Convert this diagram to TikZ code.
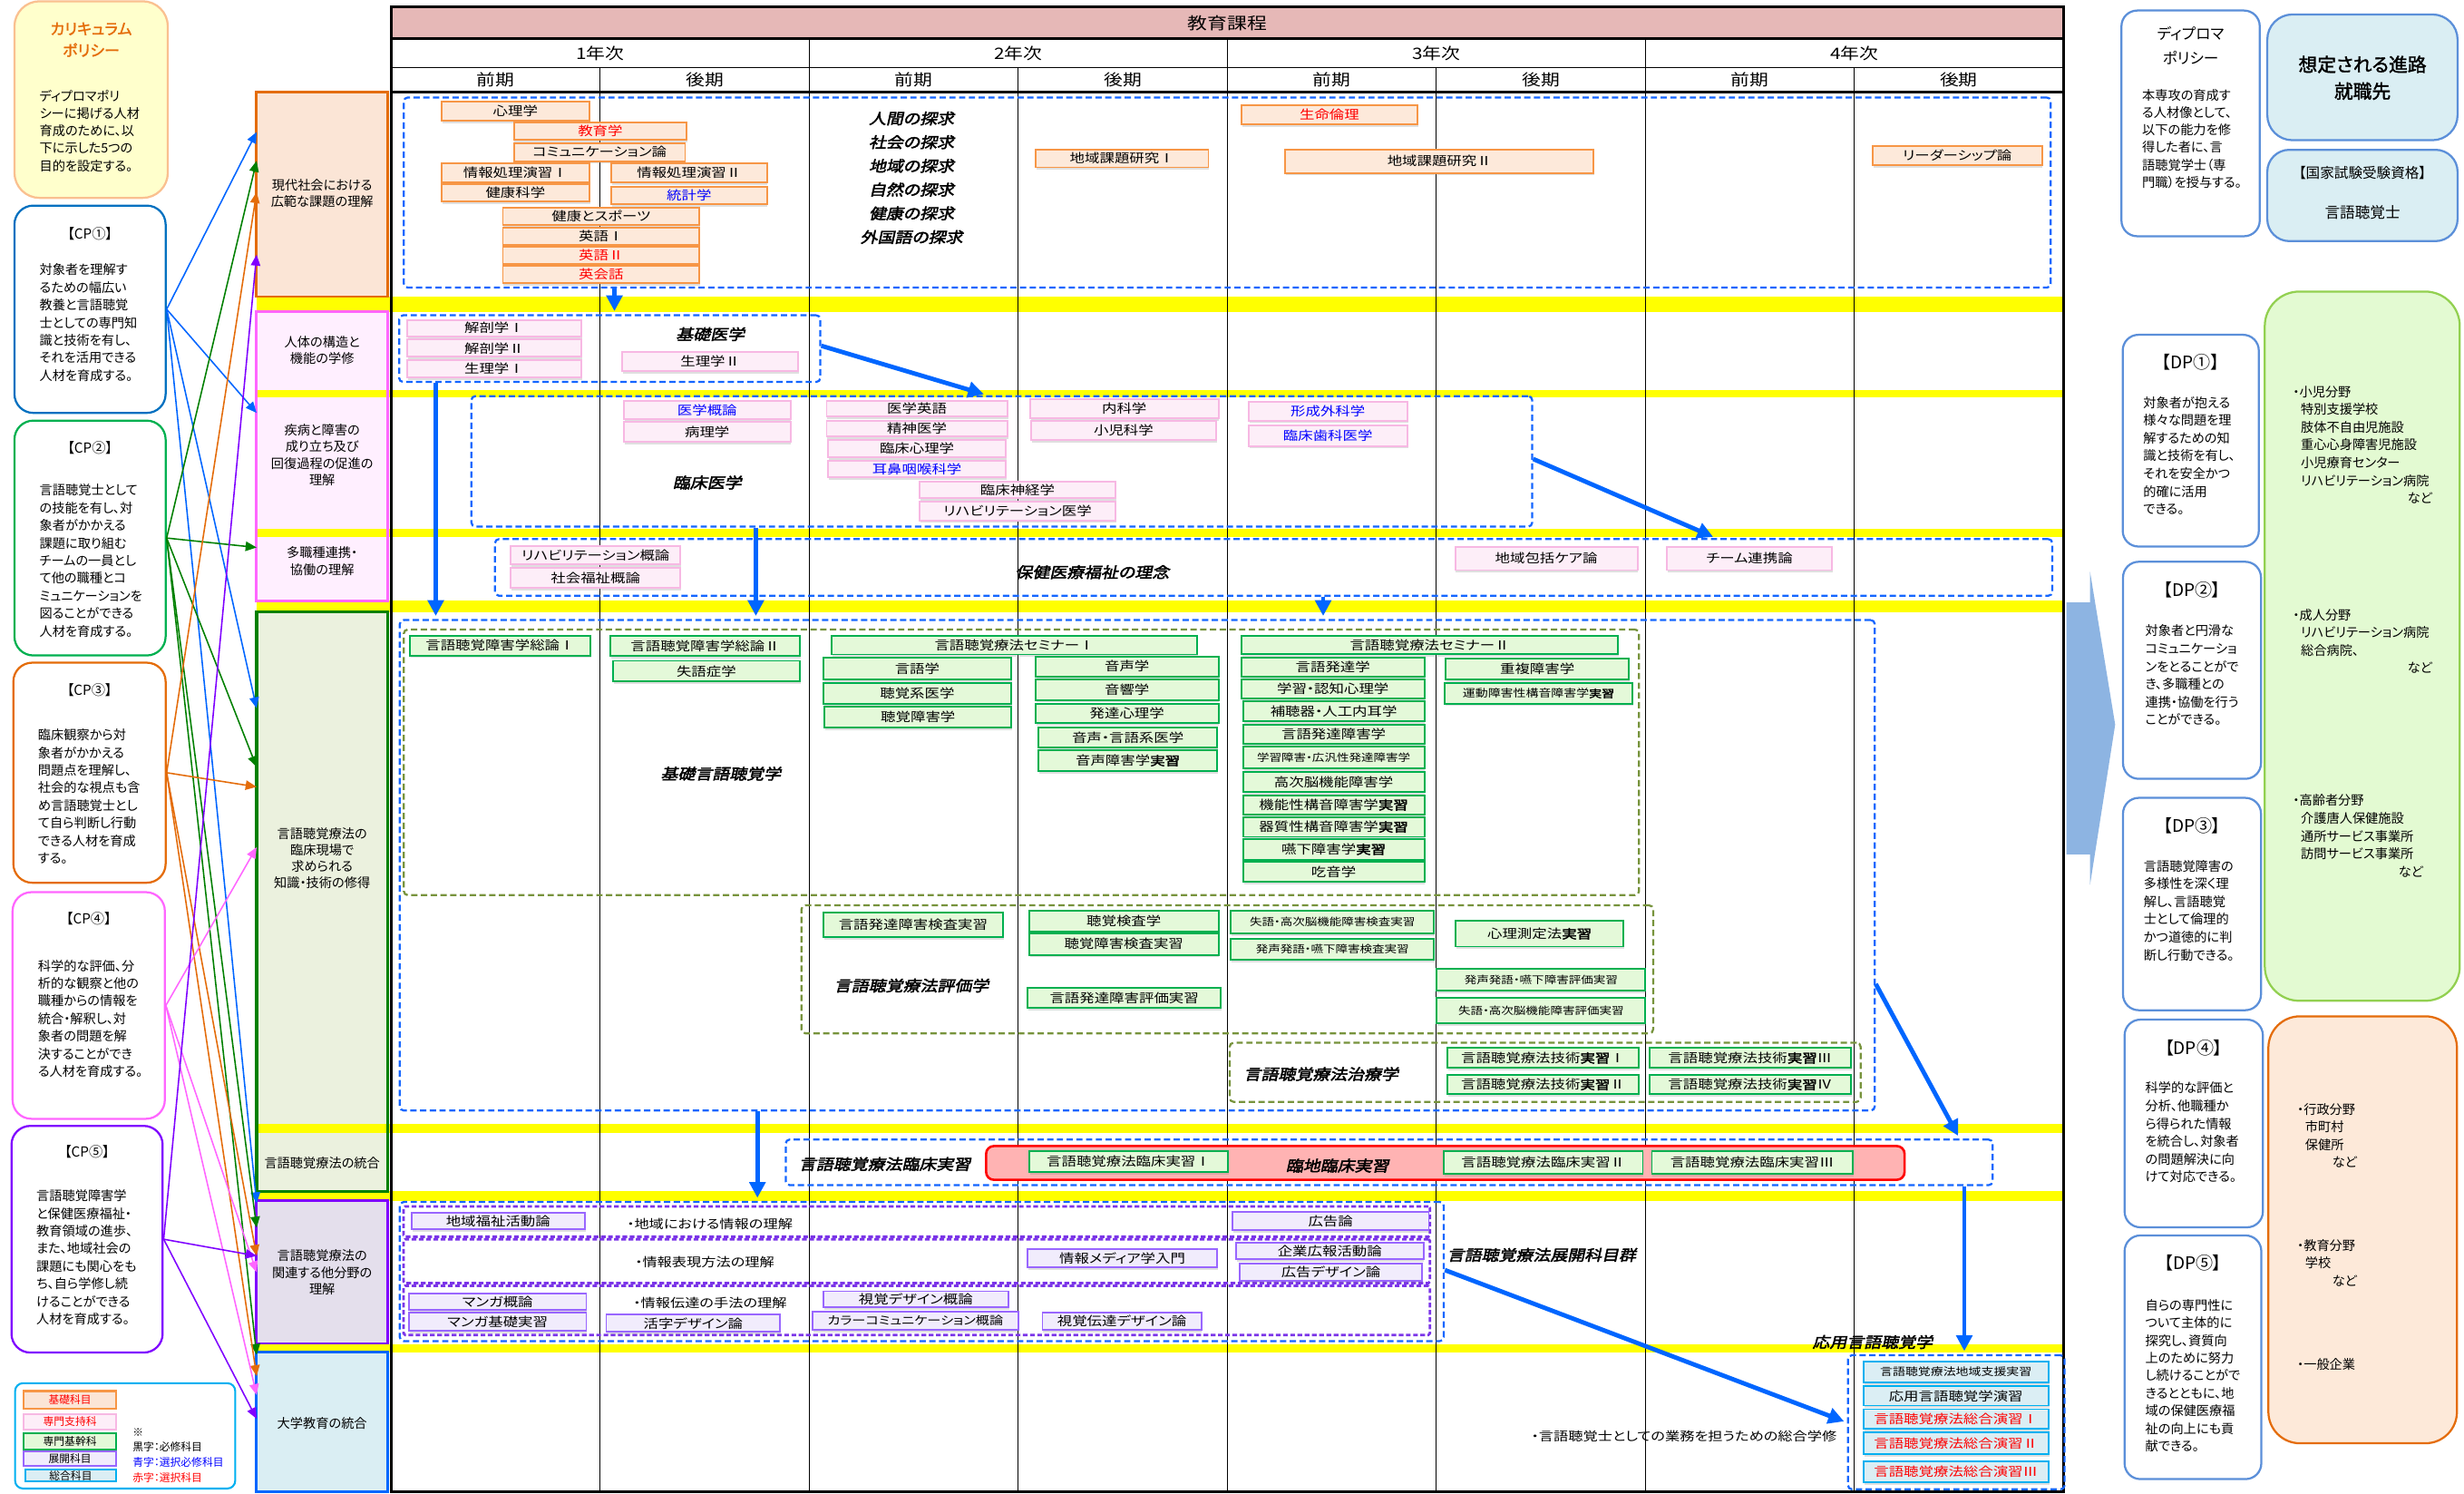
\documentclass[tikz,border=0pt]{standalone}
\usepackage{fontspec}
\setmainfont{Noto Sans CJK JP}[RawFeature=+palt]
\newfontfamily\jpbf{Noto Sans CJK JP}[FakeBold=1.6,RawFeature=+palt]
\newfontfamily\gw{Noto Sans CJK JP}[FakeStretch=1.2,RawFeature=+palt]
\newfontfamily\gwb{Noto Sans CJK JP}[FakeStretch=1.2,FakeBold=2.2,RawFeature=+palt]
\newfontfamily\gwbi{Noto Sans CJK JP}[FakeStretch=1.15,FakeBold=2.6,FakeSlant=0.22,RawFeature=+palt]
\usetikzlibrary{arrows.meta,shadows}

% palette
\definecolor{hdrF}{HTML}{E6B8B7}
\definecolor{bandY}{HTML}{FFFF00}
\definecolor{dashB}{HTML}{1466FF}
\definecolor{dashO}{HTML}{77933C}
\definecolor{dashP}{HTML}{7B35E8}
\definecolor{orL}{HTML}{F79646}
\definecolor{orF}{HTML}{FDE9DA}
\definecolor{pkL}{HTML}{F7B8E3}
\definecolor{pkF}{HTML}{FDEEF8}
\definecolor{grL}{HTML}{00B050}
\definecolor{grF}{HTML}{E4F9D9}
\definecolor{puL}{HTML}{9966FF}
\definecolor{puF}{HTML}{F1ECFC}
\definecolor{cyL}{HTML}{00B0F0}
\definecolor{cyF}{HTML}{DBEEF4}
\definecolor{txR}{HTML}{FF0000}
\definecolor{txB}{HTML}{0000FF}
\definecolor{catAL}{HTML}{E46C0A}
\definecolor{catAF}{HTML}{FBE5D6}
\definecolor{catBL}{HTML}{FF66FF}
\definecolor{catBF}{HTML}{FFEFFF}
\definecolor{catDL}{HTML}{008000}
\definecolor{catDF}{HTML}{EBF1DE}
\definecolor{catEL}{HTML}{7F00FF}
\definecolor{catEF}{HTML}{E4DFEC}
\definecolor{catFL}{HTML}{0066FF}
\definecolor{catFF}{HTML}{DAEEF3}
\definecolor{cpA}{HTML}{0070C0}
\definecolor{cpB}{HTML}{00B050}
\definecolor{cpC}{HTML}{E46C0A}
\definecolor{cpD}{HTML}{FF66FF}
\definecolor{cpE}{HTML}{7F00FF}
\definecolor{arA}{HTML}{0066FF}
\definecolor{arB}{HTML}{008000}
\definecolor{arC}{HTML}{E46C0A}
\definecolor{arD}{HTML}{FF66FF}
\definecolor{arE}{HTML}{7F00FF}
\definecolor{polF}{HTML}{FFFFCC}
\definecolor{polL}{HTML}{FAC090}
\definecolor{dpL}{HTML}{5B8FD9}
\definecolor{carBF}{HTML}{DAEEF3}
\definecolor{carGF}{HTML}{E3FAD2}
\definecolor{carGL}{HTML}{92D050}
\definecolor{carOF}{HTML}{FDE9D9}
\definecolor{carOL}{HTML}{E46C0A}
\definecolor{chev}{HTML}{8DB4E2}
\definecolor{rinF}{HTML}{FFB3B3}
\definecolor{rinL}{HTML}{FF0000}

\newcommand\fsz[1]{\fontsize{#1}{#1}\selectfont}
\newcommand\fsl[2]{\fontsize{#1}{#2}\selectfont}
\newcommand\js{{\gwb 実習}}
% course box: name, x1, y1, x2, y2, style, text
\newcommand{\crs}[7]{\node[#6,minimum width={#4-#2},minimum height={#5-#3}] (#1) at ({(#2+#4)/2},{(#3+#5)/2}) {#7};}
% empty frame: name, x1, y1, x2, y2, style
\newcommand{\rgn}[6]{\node[#6,minimum width={#4-#2},minimum height={#5-#3}] (#1) at ({(#2+#4)/2},{(#3+#5)/2}) {};}

\begin{document}
\begin{tikzpicture}[x=1pt,y=-1pt,
  crsbase/.style={rectangle,inner sep=0pt,line width=1.1pt,font=\gw\fsz{7.9},
    drop shadow={shadow xshift=0.5pt,shadow yshift=-1.6pt,opacity=0.25}},
  kiso/.style={crsbase,draw=orL,fill=orF},
  shiji/.style={crsbase,draw=pkL,fill=pkF},
  kikan/.style={crsbase,draw=grL,fill=grF},
  tenkai/.style={crsbase,draw=puL,fill=puF},
  sogo/.style={crsbase,draw=cyL,fill=cyF},
  rgnbase/.style={rectangle,inner sep=0pt,line width=1.3pt,rounded corners=2.5pt},
  dregB/.style={rgnbase,draw=dashB,dash pattern=on 4pt off 2.2pt},
  dregO/.style={rgnbase,draw=dashO,dash pattern=on 4pt off 2.2pt},
  dregP/.style={rgnbase,draw=dashP,line width=1.6pt,dash pattern=on 3pt off 1.6pt,rounded corners=1pt},
  catfill/.style={rectangle,inner sep=0pt,draw=none},
  cattext/.style={align=center,inner sep=0pt,font=\fsl{8.2}{10.5}},
  emphlbl/.style={inner sep=0pt,font=\gwbi\fsz{9.5}},
  gridnote/.style={inner sep=0pt,font=\gw\fsz{7.8}},
  bigarrow/.style={draw=arA,line width=2.8pt,-{Triangle[length=10pt,width=10pt]},shorten >=2pt},
  cparrow/.style={line width=0.9pt,-{Triangle[length=7pt,width=6pt]}},
  roundbox/.style={rectangle,inner sep=0pt,line width=1.3pt,rounded corners=12pt,fill=white},
  bodytext/.style={align=left,inner sep=0pt,anchor=west,font=\fsl{8.2}{11.2}},
  boxtitle/.style={inner sep=0pt,font=\fsz{8.8}},
  dptitle/.style={inner sep=0pt,font=\fsz{11}},
  careertext/.style={align=left,inner sep=0pt,anchor=west,font=\fsl{8.2}{11.3}},
  gridthin/.style={line width=0.6pt,black},
  gridthick/.style={line width=1.8pt,black},
]
\useasboundingbox (0,0) rectangle (1568,950);
\fill[white] (0,0) rectangle (1568,950);

% ---------- category column (fills) ----------
\rgn{catA}{163.5}{58.7}{246.5}{188.5}{catfill,fill=catAF}
\rgn{catB}{163.5}{198.6}{246.5}{382}{catfill,fill=catBF}
\rgn{catD}{163.5}{389.5}{246.5}{758}{catfill,fill=catDF}
\rgn{catE}{163.5}{764}{246.5}{854.5}{catfill,fill=catEF}
\rgn{catF}{163.5}{860.5}{246.5}{949}{catfill,fill=catFF}

% ---------- yellow separators ----------
\foreach \a/\b in {188.5/198.6,248/252.5,336.5/341.5,382/389.5,714.8/720.8,758/764,855/860.5}
  \fill[bandY] (163.5,\a) rectangle (1313,\b);

% ---------- category borders and texts ----------
\draw[catAL,line width=1.7pt] (catA.north west) rectangle (catA.south east);
\draw[catBL,line width=1.7pt] (catB.north west) rectangle (catB.south east);
\draw[catDL,line width=1.9pt] (catD.north west) rectangle (catD.south east);
\draw[catEL,line width=1.7pt] (catE.north west) rectangle (catE.south east);
\draw[catFL,line width=1.7pt] (catF.north west) rectangle (catF.south east);
\node[cattext] (catAt) at (205,123) {現代社会における\\広範な課題の理解};
\node[cattext] (catB1) at (205,223) {人体の構造と\\機能の学修};
\node[cattext] (catB2) at (205,289.5) {疾病と障害の\\成り立ち及び\\回復過程の促進の\\理解};
\node[cattext] (catB3) at (205,357) {多職種連携・\\協働の理解};
\node[cattext] (catD1) at (205,546) {言語聴覚療法の\\臨床現場で\\求められる\\知識・技術の修得};
\node[cattext] (catD2) at (205,739.7) {言語聴覚療法の統合};
\node[cattext] (catEt) at (205,809.5) {言語聴覚療法の\\関連する他分野の\\理解};
\node[cattext] (catFt) at (205,905.6) {大学教育の統合};

% ---------- timetable frame ----------
\draw[gridthin] (249,43) -- (1313,43);
\foreach \x in {382,648,914,1180} \draw[gridthin] (\x,43) -- (\x,949);
\foreach \x in {515,781,1047} \draw[gridthin] (\x,24.7) -- (\x,949);
\node[draw=black,line width=1.8pt,fill=hdrF,minimum width=1064pt,minimum height=20.4pt,inner sep=0pt,font=\gw\fsz{10.5}] (hdr) at (781,14.5) {教育課程};
\draw[gridthick] (249,58.7) -- (1313,58.7);
\draw[gridthick] (249,4.3) rectangle (1313,949);
\foreach \x/\t/\n in {382/1年次/yrA,648/2年次/yrB,914/3年次/yrC,1180/4年次/yrD}
  \node[inner sep=0pt,font=\gw\fsz{10}] (\n) at (\x,33.7) {\t};
\foreach \x/\t/\n in {315.5/前期/smA,448.5/後期/smB,581.5/前期/smC,714.5/後期/smD,847.5/前期/smE,980.5/後期/smF,1113.5/前期/smG,1246.5/後期/smH}
  \node[inner sep=0pt,font=\gw\fsz{10}] (\n) at (\x,50.7) {\t};

% ---------- dashed groupings ----------
\rgn{kisoReg}{257}{62}{1305}{183}{dregB}
\rgn{ikaReg}{254}{200.6}{522}{243}{dregB}
\rgn{rinReg}{300}{252}{975}{335}{dregB}
\rgn{hokenReg}{315}{343}{1306}{379}{dregB}
\rgn{senReg}{254.4}{394.5}{1193}{706.5}{dregB}
\rgn{kgReg}{257}{400.5}{1043}{569.5}{dregO}
\rgn{hyReg}{510}{576}{1052}{657.4}{dregO}
\rgn{chReg}{782.5}{663.4}{1184}{701}{dregO}
\rgn{jsReg}{500}{725}{1268}{754}{dregB}
\rgn{tkReg}{254.4}{764.7}{918.8}{853.2}{dregB}
\rgn{puA}{256.8}{767.6}{910}{786.8}{dregP}
\rgn{puB}{256.8}{788.4}{910}{816.3}{dregP}
\rgn{puC}{256.8}{818}{910}{849.3}{dregP}
\rgn{sgReg}{1176}{862.2}{1313.8}{947.5}{dregB}
\rgn{rinchi}{627.5}{729.1}{1212}{750.6}{rectangle,inner sep=0pt,draw=rinL,fill=rinF,line width=1.5pt,rounded corners=5pt}

% ---------- basic subjects ----------
\crs{shinri}{281}{64.6}{375}{76.6}{kiso}{心理学}
\crs{kyoiku}{327}{78}{437}{89}{kiso,text=txR}{教育学}
\crs{comm}{327}{91}{436}{102.5}{kiso}{コミュニケーション論}
\crs{johoA}{281}{104}{375}{116}{kiso}{情報処理演習Ⅰ}
\crs{johoB}{389}{104}{488}{116}{kiso}{情報処理演習Ⅱ}
\crs{kenko}{281}{117}{375}{128}{kiso}{健康科学}
\crs{tokei}{389}{119}{488}{130}{kiso,text=txB}{統計学}
\crs{sports}{320}{132}{445}{143}{kiso}{健康とスポーツ}
\crs{engA}{320}{145}{445}{156}{kiso}{英語Ⅰ}
\crs{engB}{320}{157}{445}{168}{kiso,text=txR}{英語Ⅱ}
\crs{eikaiwa}{320}{169}{445}{180}{kiso,text=txR}{英会話}
\crs{chiikiA}{659}{95}{769}{106.5}{kiso}{地域課題研究Ⅰ}
\crs{seimei}{790}{67}{902}{79}{kiso,text=txR}{生命倫理}
\crs{chiikiB}{818}{95}{1014}{110}{kiso}{地域課題研究Ⅱ}
\crs{leader}{1191.6}{93}{1299.4}{105}{kiso}{リーダーシップ論}
\node[emphlbl,align=center,font=\gwbi\fsl{9.5}{15.1}] (tankyu) at (580,113.1) {人間の探求\\社会の探求\\地域の探求\\自然の探求\\健康の探求\\外国語の探求};

% ---------- supporting subjects ----------
\crs{kaiboA}{259}{203.5}{370}{214}{shiji}{解剖学Ⅰ}
\crs{kaiboB}{259}{216}{370}{227}{shiji}{解剖学Ⅱ}
\crs{seiriA}{259}{229}{370}{240}{shiji}{生理学Ⅰ}
\crs{seiriB}{396}{224}{508}{236}{shiji}{生理学Ⅱ}
\node[emphlbl] (lblKiso) at (452,212.6) {基礎医学};
\crs{igaku}{397}{255}{503}{266.5}{shiji,text=txB}{医学概論}
\crs{byori}{397}{268.6}{503}{281.3}{shiji}{病理学}
\crs{ieigo}{526}{255}{641}{265}{shiji}{医学英語}
\crs{seishin}{526}{267.7}{641}{277.7}{shiji}{精神医学}
\crs{rinshin}{527}{280}{640}{291}{shiji}{臨床心理学}
\crs{jibi}{527}{293}{640}{303.6}{shiji,text=txB}{耳鼻咽喉科学}
\crs{shinkei}{585}{306.4}{710}{317}{shiji}{臨床神経学}
\crs{rihaI}{585}{319}{710}{331}{shiji}{リハビリテーション医学}
\crs{naika}{655.5}{254}{775.4}{266}{shiji}{内科学}
\crs{shoni}{656}{268}{774}{280}{shiji}{小児科学}
\crs{keisei}{794.5}{255.7}{895.5}{267.6}{shiji,text=txB}{形成外科学}
\crs{shika}{794.5}{270.5}{895.5}{283.7}{shiji,text=txB}{臨床歯科医学}
\node[emphlbl] (lblRin) at (450,307) {臨床医学};
\crs{rihaG}{325}{347.6}{433}{359}{shiji}{リハビリテーション概論}
\crs{fukushi}{325}{361.5}{433}{374}{shiji}{社会福祉概論}
\crs{houkatsu}{926}{348}{1042}{362.7}{shiji}{地域包括ケア論}
\crs{team}{1060.5}{348}{1166}{362.7}{shiji}{チーム連携論}
\node[emphlbl] (lblHoken) at (695,364) {保健医療福祉の理念};

% ---------- core subjects ----------
\crs{soronA}{261}{404.5}{375.5}{417}{kikan}{言語聴覚障害学総論Ⅰ}
\crs{soronB}{388.5}{404.5}{509}{417.5}{kikan}{言語聴覚障害学総論Ⅱ}
\crs{shitsugo}{390}{420.4}{509}{433.6}{kikan}{失語症学}
\crs{semiA}{529}{404.5}{762}{416.4}{kikan}{言語聴覚療法セミナーⅠ}
\crs{gengo}{523.8}{418.6}{643.6}{432.5}{kikan}{言語学}
\crs{chokakui}{523.8}{434.3}{643.6}{447.6}{kikan}{聴覚系医学}
\crs{chokakus}{524.8}{449.5}{643.6}{463}{kikan}{聴覚障害学}
\crs{onsei}{659}{417.7}{775.4}{430.3}{kikan}{音声学}
\crs{onkyo}{659}{432.5}{775.4}{445.3}{kikan}{音響学}
\crs{hattatsu}{659}{447.6}{775.4}{460.1}{kikan}{発達心理学}
\crs{onseigen}{660.7}{462.8}{774.7}{475.6}{kikan}{音声・言語系医学}
\crs{onseisho}{660.7}{477.4}{774.7}{490.4}{kikan}{音声障害学\js}
\crs{semiB}{790}{404.5}{1029.7}{416}{kikan}{言語聴覚療法セミナーⅡ}
\crs{genhatsu}{790}{418.2}{906.4}{430.3}{kikan}{言語発達学}
\crs{gakushu}{790}{432.1}{906.4}{444.2}{kikan}{学習・認知心理学}
\crs{hochoki}{791}{446.2}{906.4}{459}{kikan}{補聴器・人工内耳学}
\crs{genhatsusho}{791}{461.2}{906.4}{473}{kikan}{言語発達障害学}
\crs{ldsho}{791}{475.2}{906.4}{488.9}{kikan,font=\gw\fsz{6.5}}{学習障害・広汎性発達障害学}
\crs{koji}{791}{491}{906.4}{503.7}{kikan}{高次脳機能障害学}
\crs{kino}{791}{505.9}{906.4}{518.2}{kikan}{機能性構音障害学\js}
\crs{kishitsu}{791}{519.8}{906.4}{532.4}{kikan}{器質性構音障害学\js}
\crs{enge}{791}{533.7}{906.4}{547}{kikan}{嚥下障害学\js}
\crs{kitsuon}{791}{548.5}{906.4}{561.1}{kikan}{吃音学}
\crs{chofuku}{920.1}{418.8}{1036.5}{432.1}{kikan}{重複障害学}
\crs{undo}{919.5}{434.7}{1038.6}{447.6}{kikan,font=\gw\fsz{6.7}}{運動障害性構音障害学\js}
\node[emphlbl] (lblKG) at (458.7,492.2) {基礎言語聴覚学};
\crs{kensaA}{523.8}{580.5}{638.4}{596}{kikan}{言語発達障害検査実習}
\crs{chokensa}{654.9}{579.5}{775.4}{592.7}{kikan}{聴覚検査学}
\crs{chokensaJ}{654.9}{593.8}{775.4}{607.5}{kikan}{聴覚障害検査実習}
\crs{hyokaA}{653.8}{628.7}{777}{641.3}{kikan}{言語発達障害評価実習}
\crs{shitsuK}{783.2}{579.4}{912.6}{593.8}{kikan,font=\gw\fsz{6.5}}{失語・高次脳機能障害検査実習}
\crs{hasseiK}{783.2}{597.1}{912.6}{610.8}{kikan,font=\gw\fsz{6.5}}{発声発語・嚥下障害検査実習}
\crs{shinriS}{926.3}{586}{1033.1}{602.2}{kikan}{心理測定法\js}
\crs{hasseiH}{914.3}{616.3}{1047.1}{630.2}{kikan,font=\gw\fsz{6.5}}{発声発語・嚥下障害評価実習}
\crs{shitsuH}{914.3}{634.7}{1047.1}{651.2}{kikan,font=\gw\fsz{6.5}}{失語・高次脳機能障害評価実習}
\node[emphlbl] (lblHy) at (580,627) {言語聴覚療法評価学};
\crs{gijA}{921.1}{666.7}{1042.7}{679.5}{kikan}{言語聴覚療法技術\js Ⅰ}
\crs{gijB}{921.1}{684}{1042.7}{696}{kikan}{言語聴覚療法技術\js Ⅱ}
\crs{gijC}{1049.5}{666.7}{1177.9}{679.5}{kikan}{言語聴覚療法技術\js Ⅲ}
\crs{gijD}{1049.5}{684}{1177.9}{696}{kikan}{言語聴覚療法技術\js Ⅳ}
\node[emphlbl] (lblCh) at (840.7,683.3) {言語聴覚療法治療学};

% ---------- clinical practice ----------
\crs{rinshoA}{654.9}{732.4}{781.5}{745.8}{kikan}{言語聴覚療法臨床実習Ⅰ}
\crs{rinshoB}{918.8}{732.4}{1045.4}{746.8}{kikan}{言語聴覚療法臨床実習Ⅱ}
\crs{rinshoC}{1051.2}{732.4}{1178.9}{746.8}{kikan}{言語聴覚療法臨床実習Ⅲ}
\node[emphlbl] (lblJs) at (563,740.6) {言語聴覚療法臨床実習};
\node[emphlbl] (lblRc) at (851,741.6) {臨地臨床実習};

% ---------- related fields ----------
\crs{chiikiF}{261.9}{771.4}{372.1}{782}{tenkai}{地域福祉活動論}
\crs{media}{653.8}{794.5}{774.6}{806.1}{tenkai}{情報メディア学入門}
\crs{manga}{260.2}{823}{373.1}{833.4}{tenkai}{マンガ概論}
\crs{mangaJ}{260.2}{835.3}{373.1}{846.5}{tenkai}{マンガ基礎実習}
\crs{katsuji}{385.8}{836.3}{496.4}{847.4}{tenkai}{活字デザイン論}
\crs{shikaku}{523.8}{821.5}{641.8}{831.5}{tenkai}{視覚デザイン概論}
\crs{color}{517}{834.5}{648}{846}{tenkai,font=\gw\fsz{7.3}}{カラーコミュニケーション概論}
\crs{shikakuD}{663.4}{835}{764.4}{846}{tenkai}{視覚伝達デザイン論}
\crs{kokoku}{784.2}{771}{909.2}{782.6}{tenkai}{広告論}
\crs{kigyo}{786.6}{790.7}{905.8}{801.2}{tenkai}{企業広報活動論}
\crs{kokokuD}{788.7}{803.7}{905.1}{814.7}{tenkai}{広告デザイン論}
\node[gridnote,anchor=west] (ntA) at (398.8,778.7) {・地域における情報の理解};
\node[gridnote,anchor=west] (ntB) at (404,803.2) {・情報表現方法の理解};
\node[gridnote,anchor=west] (ntC) at (402.9,829.2) {・情報伝達の手法の理解};
\node[emphlbl] (lblTk) at (981,798.4) {言語聴覚療法展開科目群};

% ---------- integration ----------
\crs{shien}{1185.8}{866.1}{1303.5}{879.6}{sogo,font=\gw\fsz{6.7}}{言語聴覚療法地域支援実習}
\crs{oyo}{1185.8}{882}{1303.5}{894.2}{sogo}{応用言語聴覚学演習}
\crs{sogoA}{1185.8}{896.5}{1303.5}{909}{sogo,text=txR}{言語聴覚療法総合演習Ⅰ}
\crs{sogoB}{1185.8}{911.5}{1303.5}{925}{sogo,text=txR}{言語聴覚療法総合演習Ⅱ}
\crs{sogoC}{1185.8}{929.6}{1303.5}{943}{sogo,text=txR}{言語聴覚療法総合演習Ⅲ}
\node[emphlbl] (lblOyo) at (1191.6,853.8) {応用言語聴覚学};
\node[gridnote,anchor=east] (ntD) at (1169,913.8) {・言語聴覚士としての業務を担うための総合学修};

% ---------- flow arrows ----------
\draw[bigarrow] (kisoReg.south -| 391,0) -- (ikaReg.north -| 391,0);
\draw[bigarrow] (ikaReg.east |- 0,220) -- (rinReg.north -| 628,0);
\draw[bigarrow] (rinReg.east |- 0,292) -- (hokenReg.north -| 1092,0);
\draw[bigarrow] (ikaReg.south -| 277.3,0) -- (senReg.north -| 277.3,0);
\draw[bigarrow] (rinReg.south -| 481,0) -- (senReg.north -| 481,0);
\draw[bigarrow] (hokenReg.south -| 842,0) -- (senReg.north -| 842,0);
\draw[bigarrow] (senReg.east |- 0,626) -- (jsReg.north -| 1247,0);
\draw[bigarrow] (senReg.south -| 482,0) -- (tkReg.north -| 482,0);
\draw[bigarrow] (jsReg.south -| 1250,0) -- (sgReg.north -| 1250,0);
\draw[bigarrow] (tkReg.east |- 0,808) -- (sgReg.west |- 0,905);

% ---------- curriculum policy column ----------
\rgn{pol}{9.2}{0.8}{106.8}{125.9}{roundbox,draw=polL,fill=polF,rounded corners=16pt}
\node[inner sep=0pt,align=center,text=catAL,font=\jpbf\fsl{9.8}{13.7}] (polT) at (58,25.2) {カリキュラム\\ポリシー};
\node[bodytext,font=\fsl{8.2}{11.1}] (polB) at (25,83.2) {ディプロマポリ\\シーに掲げる人材\\育成のために、以\\下に示した5つの\\目的を設定する。};

\rgn{cpa}{9.2}{130.8}{105.4}{262.7}{roundbox,draw=cpA}
\node[boxtitle] (cpaT) at (57.3,148.8) {【CP①】};
\node[bodytext] (cpaB) at (25,205.3) {対象者を理解す\\るための幅広い\\教養と言語聴覚\\士としての専門知\\識と技術を有し、\\それを活用できる\\人材を育成する。};

\rgn{cpb}{9.2}{267.6}{105.4}{417}{roundbox,draw=cpB}
\node[boxtitle] (cpbT) at (57.3,284.7) {【CP②】};
\node[bodytext] (cpbB) at (25,356.7) {言語聴覚士として\\の技能を有し、対\\象者がかかえる\\課題に取り組む\\チームの一員とし\\て他の職種とコ\\ミュニケーションを\\図ることができる\\人材を育成する。};

\rgn{cpc}{8.5}{421.6}{105.4}{561.6}{roundbox,draw=cpC}
\node[boxtitle] (cpcT) at (57,439) {【CP③】};
\node[bodytext] (cpcB) at (24,506.7) {臨床観察から対\\象者がかかえる\\問題点を理解し、\\社会的な視点も含\\め言語聴覚士とし\\て自ら判断し行動\\できる人材を育成\\する。};

\rgn{cpd}{8}{567.6}{104.9}{711.8}{roundbox,draw=cpD}
\node[boxtitle] (cpdT) at (56.5,584.7) {【CP④】};
\node[bodytext] (cpdB) at (24,648) {科学的な評価、分\\析的な観察と他の\\職種からの情報を\\統合・解釈し、対\\象者の問題を解\\決することができ\\る人材を育成する。};

\rgn{cpe}{7.3}{716.3}{103.5}{860.5}{roundbox,draw=cpE}
\node[boxtitle] (cpeT) at (55.4,732.8) {【CP⑤】};
\node[bodytext] (cpeB) at (23,800) {言語聴覚障害学\\と保健医療福祉・\\教育領域の進歩、\\また、地域社会の\\課題にも関心をも\\ち、自ら学修し続\\けることができる\\人材を育成する。};

% legend
\rgn{leg}{9.6}{880}{149.7}{947}{rectangle,inner sep=0pt,draw=cyL,line width=1.2pt,rounded corners=5pt}
\crs{legA}{15}{885}{74}{896.5}{rectangle,inner sep=0pt,draw=orL,fill=catAF,line width=1.2pt,text=txR,font=\fsz{6.8}}{基礎科目}
\crs{legB}{15}{899.6}{74}{909.5}{rectangle,inner sep=0pt,draw=pkL,fill=pkF,line width=1.2pt,text=txR,font=\fsz{6.8}}{専門支持科}
\crs{legC}{15}{911.6}{74}{922}{rectangle,inner sep=0pt,draw=grL,fill=grF,line width=1.2pt,font=\fsz{6.8}}{専門基幹科}
\crs{legD}{15}{923.6}{74}{932.6}{rectangle,inner sep=0pt,draw=puL,fill=puF,line width=1.2pt,font=\fsz{6.8}}{展開科目}
\crs{legE}{16}{935}{74}{942.5}{rectangle,inner sep=0pt,draw=cyL,fill=cyF,line width=1.2pt,font=\fsz{6.8}}{総合科目}
\node[inner sep=0pt,anchor=west,font=\fsz{6.8}] (legN0) at (84.3,911.6) {※};
\node[inner sep=0pt,anchor=west,font=\fsz{6.8}] (legN1) at (84.3,920.6) {黒字：必修科目};
\node[inner sep=0pt,anchor=west,font=\fsz{6.8},text=txB] (legN2) at (84.3,930.5) {青字：選択必修科目};
\node[inner sep=0pt,anchor=west,font=\fsz{6.8},text=txR] (legN3) at (84.3,940.1) {赤字：選択科目};

% policy-to-category arrows
\draw[cparrow,arA] (cpa.east) -- (catA.west |- 0,84);
\draw[cparrow,arA] (cpa.east) -- (catB.west |- 0,262.7);
\draw[cparrow,arA] (cpa.east) -- (catD.west |- 0,450.6);
\draw[cparrow,arA] (cpa.east) -- (catE.west |- 0,765.5);
\draw[cparrow,arB] (cpb.east) -- (catA.west |- 0,102.3);
\draw[cparrow,arB] (cpb.east) -- (catB.west |- 0,348.3);
\draw[cparrow,arB] (cpb.east) -- (catD.west |- 0,488);
\draw[cparrow,arB] (cpb.east) -- (catE.west |- 0,781);
\draw[cparrow,arB] (cpb.east) -- (catF.west |- 0,862);
\draw[cparrow,arC] (cpc.east) -- (catA.west |- 0,122.2);
\draw[cparrow,arC] (cpc.east) -- (catD.west |- 0,500.6);
\draw[cparrow,arC] (cpc.east) -- (catE.west |- 0,799);
\draw[cparrow,arC] (cpc.east) -- (catF.west |- 0,875.5);
\draw[cparrow,arD] (cpd.east) -- (catD.west |- 0,539);
\draw[cparrow,arD] (cpd.east) -- (catE.west |- 0,809.4);
\draw[cparrow,arD] (cpd.east) -- (catF.west |- 0,887.5);
\draw[cparrow,arE] (cpe.east) -- (catA.west |- 0,162);
\draw[cparrow,arE] (cpe.east) -- (catE.west |- 0,799);
\draw[cparrow,arE] (cpe.east) -- (catF.west |- 0,902.6);

% ---------- diploma policy column ----------
\fill[chev] (1315,383.3) -- (1330,383.3) -- (1330,363.6) -- (1346,461) -- (1330,563) -- (1330,543.6) -- (1315,543.6) -- cycle;

\rgn{dpol}{1350}{6.7}{1438}{150.3}{roundbox,draw=dpL,rounded corners=10pt}
\node[inner sep=0pt,align=center,font=\fsl{9.6}{15.3}] (dpolT) at (1394,29) {ディプロマ\\ポリシー};
\node[bodytext,font=\fsl{8.2}{11.1}] (dpolB) at (1363,88.3) {本専攻の育成す\\る人材像として、\\以下の能力を修\\得した者に、言\\語聴覚学士（専\\門職）を授与する。};

\rgn{dpa}{1350.8}{213}{1437.4}{347.7}{roundbox,draw=dpL,rounded corners=10pt}
\node[dptitle] (dpaT) at (1394,230.6) {【DP①】};
\node[bodytext,font=\fsl{8.2}{11.3}] (dpaB) at (1363.7,289.9) {対象者が抱える\\様々な問題を理\\解するための知\\識と技術を有し、\\それを安全かつ\\的確に活用\\できる。};

\rgn{dpb}{1351}{357.4}{1438.8}{495.5}{roundbox,draw=dpL,rounded corners=10pt}
\node[dptitle] (dpbT) at (1395,375) {【DP②】};
\node[bodytext,font=\fsl{8.2}{11.3}] (dpbB) at (1365,429.5) {対象者と円滑な\\コミュニケーショ\\ンをとることがで\\き、多職種との\\連携・協働を行う\\ことができる。};

\rgn{dpc}{1351}{507.6}{1438.8}{642.7}{roundbox,draw=dpL,rounded corners=10pt}
\node[dptitle] (dpcT) at (1395,525.5) {【DP③】};
\node[bodytext,font=\fsl{8.2}{11.3}] (dpcB) at (1364,579.3) {言語聴覚障害の\\多様性を深く理\\解し、言語聴覚\\士として倫理的\\かつ道徳的に判\\断し行動できる。};

\rgn{dpd}{1352}{648.7}{1440}{780.8}{roundbox,draw=dpL,rounded corners=10pt}
\node[dptitle] (dpdT) at (1396,666.6) {【DP④】};
\node[bodytext,font=\fsl{8.2}{11.3}] (dpdB) at (1365,720.5) {科学的な評価と\\分析、他職種か\\ら得られた情報\\を統合し、対象者\\の問題解決に向\\けて対応できる。};

\rgn{dpe}{1352}{786}{1439}{941}{roundbox,draw=dpL,rounded corners=10pt}
\node[dptitle] (dpeT) at (1395.5,803.4) {【DP⑤】};
\node[bodytext,font=\fsl{8.2}{11.2}] (dpeB) at (1365,875.2) {自らの専門性に\\ついて主体的に\\探究し、資質向\\上のために努力\\し続けることがで\\きるとともに、地\\域の保健医療福\\祉の向上にも貢\\献できる。};

% ---------- career column ----------
\rgn{carA}{1442.8}{9.2}{1563.9}{89.2}{roundbox,draw=dpL,fill=carBF,rounded corners=16pt}
\node[inner sep=0pt,align=center,font=\jpbf\fsl{12}{17}] (carAT) at (1503.4,49.5) {想定される進路\\就職先};
\rgn{carB}{1442.8}{95.3}{1563.9}{153.4}{roundbox,draw=dpL,fill=carBF,rounded corners=14pt}
\node[inner sep=0pt,font=\fsz{9}] (carBT) at (1503.4,110) {【国家試験受験資格】};
\node[inner sep=0pt,font=\fsz{9.6}] (carBS) at (1503.4,135) {言語聴覚士};

\rgn{carC}{1441.2}{185.5}{1565.3}{636.7}{roundbox,draw=carGL,fill=carGF,rounded corners=22pt}
\node[careertext,text width=88.6pt] (grpA) at (1459,283) {・小児分野\\\hspace*{5pt}特別支援学校\\\hspace*{5pt}肢体不自由児施設\\\hspace*{5pt}重心心身障害児施設\\\hspace*{5pt}小児療育センター\\\hspace*{5pt}リハビリテーション病院\\\hspace*{\fill}など};
\node[careertext,text width=88.6pt] (grpB) at (1459,407.9) {・成人分野\\\hspace*{5pt}リハビリテーション病院\\\hspace*{5pt}総合病院、\\\hspace*{\fill}など};
\node[careertext,text width=82.8pt] (grpC) at (1459,531.8) {・高齢者分野\\\hspace*{5pt}介護唐人保健施設\\\hspace*{5pt}通所サービス事業所\\\hspace*{5pt}訪問サービス事業所\\\hspace*{\fill}など};

\rgn{carD}{1443.5}{646.6}{1563.5}{918.2}{roundbox,draw=carOL,fill=carOF,rounded corners=20pt}
\node[careertext,text width=38pt] (grpD) at (1461.7,722.4) {・行政分野\\\hspace*{5pt}市町村\\\hspace*{5pt}保健所\\\hspace*{\fill}など};
\node[careertext,text width=38pt] (grpE) at (1461.7,803.5) {・教育分野\\\hspace*{5pt}学校\\\hspace*{\fill}など};
\node[careertext] (grpF) at (1461.7,868) {・一般企業};

\end{tikzpicture}
\end{document}
